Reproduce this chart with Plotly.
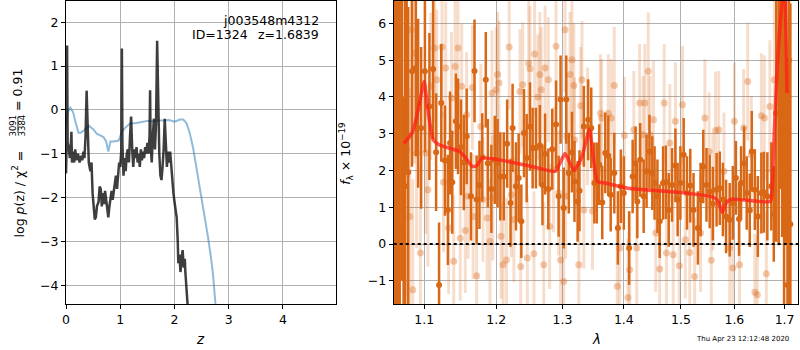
import plotly.graph_objects as go

# ---------------- left panel data ----------------
chi_z = [0.0, 0.03, 0.08, 0.13, 0.18, 0.23, 0.27, 0.32, 0.39, 0.42, 0.51, 0.57, 0.63, 0.69, 0.74,
         0.78, 0.82, 0.88, 0.97, 1.03, 1.08, 1.14, 1.18, 1.30, 1.36, 1.50, 1.60, 1.70, 1.80, 1.90,
         2.00, 2.10, 2.16, 2.22, 2.28, 2.34, 2.40, 2.45, 2.49, 2.55, 2.62, 2.67, 2.71, 2.76, 2.82]
chi_v = [-0.38, -0.05, 0.05, -0.05, -0.30, -0.52, -0.52, -0.48, -0.40, -0.36, -0.45, -0.55, -0.58, -0.62, -0.72,
         -0.95, -0.72, -0.72, -0.70, -0.50, -0.42, -0.34, -0.31, -0.30, -0.28, -0.25, -0.26, -0.24, -0.24, -0.23,
         -0.27, -0.22, -0.22, -0.30, -0.52, -0.85, -1.29, -1.65, -2.00, -2.45, -2.92, -3.35, -3.76, -4.50, -5.30]

pz_z = [0.00, 0.01, 0.02, 0.03, 0.05, 0.07, 0.09, 0.10, 0.11, 0.13, 0.15, 0.17, 0.19, 0.22, 0.25,
        0.28, 0.30, 0.32, 0.34, 0.36, 0.38, 0.40, 0.42, 0.45, 0.47, 0.49, 0.51, 0.53, 0.55, 0.57,
        0.60, 0.62, 0.64, 0.66, 0.68, 0.70, 0.72, 0.74, 0.76, 0.78, 0.80, 0.82, 0.84, 0.86, 0.88,
        0.90, 0.92, 0.94, 0.96, 0.98, 1.00, 1.02, 1.03, 1.04, 1.06, 1.08, 1.10, 1.12, 1.14, 1.16,
        1.18, 1.20, 1.22, 1.24, 1.26, 1.28, 1.30, 1.32, 1.34, 1.36, 1.38, 1.40, 1.42, 1.44, 1.46,
        1.48, 1.50, 1.52, 1.54, 1.55, 1.56, 1.58, 1.60, 1.62, 1.64, 1.66, 1.68, 1.70, 1.72, 1.74,
        1.76, 1.78, 1.80, 1.82, 1.84, 1.86, 1.88, 1.90, 1.92, 1.94, 1.96, 1.98, 2.00, 2.02, 2.04,
        2.06, 2.07, 2.09, 2.11, 2.13, 2.15, 2.17, 2.19, 2.20, 2.22, 2.25, 2.30]
pz_v = [-1.45, -0.90, 1.47, -0.75, -0.85, -1.10, -0.80, -0.50, -1.20, -0.95, -1.20, -0.90, -1.15, -1.00, -1.20,
        -1.05, -1.15, -0.95, -1.10, -0.60, 0.44, -0.70, -1.20, -1.40, -1.20, -1.90, -2.30, -2.50, -2.45, -2.20,
        -2.10, -1.75, -1.80, -2.20, -1.90, -2.15, -1.85, -2.10, -2.35, -2.45, -2.20, -2.00, -1.85, -2.05, -1.90,
        -1.70, -1.50, -1.80, -1.40, -1.20, -1.30, -0.90, 1.40, -0.80, -1.50, -1.10, -1.40, -1.00, -0.90, -1.20,
        -0.60, -0.15, -0.90, -1.30, -0.90, -1.10, -0.85, -1.20, -1.00, -1.30, -0.90, -1.15, -0.95, -1.10, -0.85,
        -1.00, -0.75, -1.00, -0.60, 0.45, -0.80, -1.20, -0.60, -0.20, -0.90, -0.30, 1.58, -0.40, -1.00, -1.50,
        -1.60, -1.30, -0.90, -0.20, -1.00, -1.30, -0.95, -1.20, -0.95, -1.30, -1.50, -1.90, -2.10, -2.30, -2.45,
        -3.00, -3.50, -3.30, -3.70, -3.40, -3.20, -3.60, -3.40, -3.70, -4.00, -4.60, -5.50]

# ---------------- right panel data ----------------
dark_lam = [1.062, 1.064, 1.066, 1.068, 1.071, 1.073, 1.075, 1.077, 1.079, 1.084, 1.089, 1.092, 1.096, 1.101,
            1.107, 1.112, 1.116, 1.120, 1.123, 1.128, 1.132, 1.135, 1.138, 1.143, 1.146, 1.150, 1.154, 1.158,
            1.164, 1.169, 1.172, 1.176, 1.180, 1.185, 1.188, 1.193, 1.198, 1.202, 1.206, 1.211, 1.216, 1.221,
            1.224, 1.229, 1.233, 1.237, 1.241, 1.245, 1.250, 1.254, 1.259, 1.265, 1.269, 1.273, 1.278, 1.284,
            1.290, 1.294, 1.297, 1.302, 1.306, 1.310, 1.315, 1.319, 1.324, 1.327, 1.334, 1.341, 1.346, 1.351,
            1.355, 1.359, 1.364, 1.369, 1.374, 1.378, 1.384, 1.390, 1.395, 1.400, 1.409, 1.415, 1.420, 1.423,
            1.428, 1.434, 1.439, 1.444, 1.449, 1.453, 1.458, 1.462, 1.468, 1.473, 1.478, 1.484, 1.490, 1.494,
            1.499, 1.505, 1.511, 1.517, 1.523, 1.531, 1.536, 1.541, 1.547, 1.553, 1.559, 1.566, 1.572, 1.578,
            1.584, 1.591, 1.597, 1.603, 1.609, 1.613, 1.619, 1.624, 1.630, 1.634, 1.640, 1.646, 1.653, 1.658,
            1.665, 1.673, 1.678, 1.683, 1.688, 1.691, 1.695, 1.699, 1.703, 1.706, 1.709, 1.712]
dark_f = [7.20, 1.75, -2.40, 0.39, 8.00, -2.00, 1.57, 7.00, 1.95, 4.70, 4.79, 3.83, 3.16, 4.70,
          3.74, 4.76, 2.50, -1.11, 3.84, 2.27, 0.93, 2.75, 1.68, 3.34, 3.20, 2.63, 2.22, 2.93,
          1.30, 4.71, 1.21, 1.61, 2.36, 4.47, 2.20, 1.50, 2.29, 2.20, 1.84, 1.84, 2.73, 1.12,
          3.16, 1.57, 1.80, 0.62, 3.02, 2.34, 3.20, 2.61, 2.61, 2.68, 1.61, 2.45, 1.50, 2.58,
          3.25, 1.30, 3.93, 0.98, 3.93, 1.93, 2.50, 1.70, 1.16, 1.45, 3.20, 3.38, 3.16, 1.66,
          1.66, 2.16, 1.13, 2.48, 2.40, 1.34, 1.93, 0.44, 1.57, 1.39, -0.11, 1.84, 2.20, 1.16,
          2.29, 1.30, 1.98, 2.52, 1.93, 1.66, 1.30, 0.62, 1.66, 1.68, 0.93, 1.61, 2.14, 1.21,
          1.66, 2.43, 1.39, 1.59, 0.93, 0.44, 1.21, 2.11, 1.61, 1.43, 1.10, 1.48, 1.52, 1.21,
          0.75, 0.66, 1.12, 1.80, 0.68, 1.66, 2.20, 1.39, 0.92, 2.52, 1.48, 0.75, 1.39, 1.41,
          1.30, 1.57, 0.82, 3.56, 4.47, 7.50, 6.19, 2.18, 8.00, -1.11, 5.00, 0.54]
dark_e = [9.0, 8.0, 9.0, 8.0, 9.0, 6.0, 6.0, 5.0, 4.5, 2.6, 2.4, 2.3, 2.2, 2.2,
          2.0, 1.9, 1.6, 1.7, 1.6, 1.5, 1.5, 1.4, 1.4, 1.3, 1.3, 1.3, 1.3, 1.3,
          1.2, 1.4, 1.2, 1.2, 1.2, 1.3, 1.2, 1.2, 1.2, 1.2, 1.2, 1.2, 1.2, 1.2,
          1.2, 1.2, 1.2, 1.0, 1.2, 1.2, 1.2, 1.1, 1.1, 1.1, 1.1, 1.1, 1.1, 1.1,
          1.2, 1.1, 1.2, 1.1, 1.2, 1.1, 1.1, 1.1, 1.1, 1.1, 1.1, 1.1, 1.1, 1.1,
          1.1, 1.1, 1.0, 1.1, 1.1, 1.0, 1.1, 1.0, 1.0, 1.0, 1.0, 1.0, 1.0, 1.0,
          1.0, 1.0, 1.0, 1.0, 1.0, 1.0, 1.0, 1.0, 1.0, 1.0, 1.0, 1.0, 1.0, 1.0,
          1.0, 1.0, 1.0, 1.0, 1.0, 1.0, 1.0, 1.0, 1.0, 1.0, 1.0, 1.0, 1.0, 1.0,
          1.0, 1.0, 1.0, 1.0, 1.0, 1.0, 1.0, 1.0, 1.0, 1.1, 1.1, 1.1, 1.1, 1.1,
          1.2, 1.2, 1.3, 3.5, 4.5, 6.0, 6.0, 6.0, 8.0, 6.0, 8.0, 6.0]

light_lam = [1.077, 1.081, 1.083, 1.085, 1.087, 1.090, 1.095, 1.102, 1.105, 1.109, 1.114, 1.117, 1.124, 1.126,
             1.129, 1.133, 1.137, 1.140, 1.142, 1.146, 1.149, 1.151, 1.156, 1.158, 1.160, 1.166, 1.167, 1.172,
             1.178, 1.181, 1.187, 1.191, 1.194, 1.195, 1.200, 1.202, 1.204, 1.207, 1.210, 1.215, 1.219, 1.222,
             1.226, 1.235, 1.236, 1.239, 1.246, 1.248, 1.250, 1.256, 1.257, 1.262, 1.265, 1.267, 1.271, 1.273,
             1.278, 1.280, 1.286, 1.290, 1.294, 1.297, 1.302, 1.304, 1.305, 1.307, 1.312, 1.315, 1.318, 1.319,
             1.326, 1.329, 1.331, 1.334, 1.340, 1.348, 1.361, 1.363, 1.374, 1.379, 1.384, 1.389, 1.393, 1.401,
             1.407, 1.410, 1.417, 1.422, 1.427, 1.433, 1.436, 1.442, 1.445, 1.451, 1.455, 1.462, 1.470, 1.474,
             1.480, 1.486, 1.490, 1.497, 1.503, 1.508, 1.516, 1.525, 1.536, 1.544, 1.552, 1.556, 1.559, 1.564,
             1.570, 1.580, 1.591, 1.597, 1.600, 1.610, 1.618, 1.626, 1.633, 1.640, 1.645, 1.653, 1.659, 1.663,
             1.670, 1.679, 1.689]
light_f = [2.57, 0.75, 5.83, -1.24, 5.19, 2.48, -0.24, 2.48, 1.48, 4.29, 5.33, 4.47, 5.36, 1.68,
           4.79, 0.44, 3.97, -0.47, 4.83, 5.33, 0.16, 4.29, 0.37, 3.52, 1.30, 4.26, 0.75, -0.86,
           3.20, 1.21, 0.71, 0.07, 4.11, 1.25, 4.20, 4.61, 4.38, 0.21, -0.56, -0.43, 5.36, 1.34,
           0.66, 4.15, -0.61, 4.33, -0.38, 4.92, 4.77, -0.26, 5.17, 4.00, 4.61, 4.20, -0.56, 4.79,
           4.47, 0.48, 2.02, 5.38, 1.39, -0.43, -1.02, 5.83, 1.30, 2.93, 4.61, 5.01, 4.31, 2.84,
           -0.56, 3.76, 4.47, 0.93, 3.20, 0.90, 3.56, 3.43, 3.56, 3.43, 4.31, -1.15, -0.11, 2.95,
           -1.45, -0.70, 3.11, -0.11, 3.84, 2.97, 3.84, 4.70, 2.97, 3.38, 0.30, -0.68, 3.84, -0.24,
           2.75, -0.29, 3.34, -0.59, 3.79, 0.12, -0.23, -0.88, 0.30, 3.43, 2.52, -0.44, 1.43, 3.09,
           3.11, 1.98, -0.11, -0.65, 3.34, -0.56, 3.16, 4.42, 2.43, -1.31, -1.38, 3.49, 3.43, -0.81,
           3.74, 4.47, 5.74]
light_e = [4.0, 3.5, 3.0, 3.0, 3.0, 2.6, 2.4, 2.2, 2.1, 2.0, 2.0, 1.9, 1.9, 1.9,
           1.8, 1.8, 1.8, 1.8, 1.8, 1.8, 1.7, 1.7, 1.7, 1.7, 1.7, 1.7, 1.7, 1.7,
           1.7, 1.7, 1.7, 1.7, 1.7, 1.7, 1.7, 1.7, 1.7, 1.7, 1.7, 1.7, 1.7, 1.7,
           1.7, 1.7, 1.7, 1.7, 1.7, 1.7, 1.7, 1.7, 1.7, 1.7, 1.7, 1.7, 1.7, 1.7,
           1.7, 1.7, 1.7, 1.7, 1.7, 1.7, 1.7, 1.7, 1.7, 1.7, 1.7, 1.7, 1.7, 1.7,
           1.6, 1.6, 1.6, 1.6, 1.6, 1.6, 1.6, 1.6, 1.6, 1.6, 1.6, 1.6, 1.6, 1.6,
           1.6, 1.6, 1.6, 1.6, 1.6, 1.6, 1.6, 1.6, 1.6, 1.6, 1.6, 1.6, 1.6, 1.6,
           1.6, 1.6, 1.6, 1.6, 1.6, 1.6, 1.6, 1.6, 1.6, 1.6, 1.6, 1.6, 1.6, 1.6,
           1.6, 1.6, 1.6, 1.6, 1.6, 1.6, 1.6, 1.6, 1.6, 1.6, 1.6, 1.7, 1.7, 1.7,
           1.8, 2.2, 3.0]

model_lam = [1.0735, 1.085, 1.092, 1.100, 1.105, 1.112, 1.120, 1.148, 1.155, 1.166, 1.172, 1.180, 1.205,
             1.253, 1.289, 1.304, 1.318, 1.331, 1.343, 1.356, 1.369, 1.407, 1.494, 1.559, 1.569, 1.577,
             1.584, 1.594, 1.671, 1.675, 1.679, 1.685, 1.691, 1.696, 1.700, 1.705]
model_f = [2.73, 3.06, 3.65, 4.42, 3.65, 2.84, 2.70, 2.52, 2.38, 2.11, 2.13, 2.34, 2.29,
           2.11, 1.98, 2.46, 2.00, 2.38, 3.11, 1.70, 1.66, 1.52, 1.41, 1.28, 1.16, 0.86,
           1.12, 1.22, 1.16, 1.57, 3.02, 4.83, 6.01, 6.70, 7.10, 4.11]

left_xticks = [0, 1, 2, 3, 4]
left_yticks = [-4, -3, -2, -1, 0, 1, 2]
right_xticks = [1.1, 1.2, 1.3, 1.4, 1.5, 1.6, 1.7]
right_yticks = [-1, 0, 1, 2, 3, 4, 5, 6]

def lab(v):
    s = ("%g" % v)
    return s.replace("-", "\u2212")

FONT = "DejaVu Sans"
FS = 12.5
ORANGE = "rgb(217,104,22)"

fig = go.Figure()

fig.add_trace(go.Scatter(x=chi_z, y=chi_v, mode="lines", xaxis="x", yaxis="y",
                         line=dict(color="rgba(31,119,180,0.5)", width=2), hoverinfo="skip"))
fig.add_trace(go.Scatter(x=pz_z, y=pz_v, mode="lines", xaxis="x", yaxis="y",
                         line=dict(color="rgba(20,20,20,0.82)", width=2.5), hoverinfo="skip"))

fig.add_trace(go.Scatter(x=light_lam, y=light_f, mode="markers", xaxis="x2", yaxis="y2",
                         marker=dict(color="rgba(217,104,22,0.35)", size=7, line=dict(width=0)),
                         error_y=dict(type="data", array=light_e, color="rgba(217,104,22,0.22)",
                                      thickness=3, width=0), hoverinfo="skip"))
fig.add_trace(go.Scatter(x=dark_lam, y=dark_f, mode="markers", xaxis="x2", yaxis="y2",
                         marker=dict(color=ORANGE, size=6, line=dict(width=0)),
                         error_y=dict(type="data", array=dark_e, color=ORANGE,
                                      thickness=2.5, width=0), hoverinfo="skip"))
fig.add_trace(go.Scatter(x=model_lam, y=model_f, mode="lines", xaxis="x2", yaxis="y2",
                         line=dict(color="rgba(255,30,20,0.75)", width=3.5, shape="spline", smoothing=0.5),
                         hoverinfo="skip"))

axis_common = dict(showgrid=True, gridcolor="#b0b0b0", gridwidth=1, zeroline=False,
                   showline=True, linecolor="black", linewidth=1, mirror=True,
                   ticks="outside", ticklen=4, tickwidth=1, tickcolor="black",
                   tickfont=dict(family=FONT, size=FS, color="black"))

fig.update_layout(
    width=800, height=350, margin=dict(l=0, r=0, t=0, b=0),
    paper_bgcolor="white", plot_bgcolor="white", showlegend=False,
    font=dict(family=FONT, size=FS, color="black"),
    xaxis=dict(domain=[0.0779, 0.4166], range=[0, 4.97], anchor="y",
               tickvals=left_xticks, ticktext=[lab(v) for v in left_xticks], **axis_common),
    yaxis=dict(domain=[0.1314, 0.9971], range=[-4.43, 2.486], anchor="x",
               tickvals=left_yticks, ticktext=[lab(v) for v in left_yticks], **axis_common),
    xaxis2=dict(domain=[0.4896, 0.9975], type="log", range=[0.02543, 0.2375], anchor="y2",
                tickvals=right_xticks, ticktext=[lab(v) for v in right_xticks], **axis_common),
    yaxis2=dict(domain=[0.1314, 0.9971], range=[-1.63, 6.61], anchor="x2",
                tickvals=right_yticks, ticktext=[lab(v) for v in right_yticks], **axis_common),
)

# dotted zero line on right panel
fig.add_shape(type="line", xref="x2 domain", yref="y2", x0=0, x1=1, y0=0, y1=0,
              line=dict(color="black", width=2, dash="dot"), layer="above")

ann = []
# left y label (with fraction)
ann.append(dict(text="log <i>p</i>(z) / \u03c7<sup>2</sup> =", x=14 / 800, y=(350 - 193.5) / 350,
                xref="paper", yref="paper", textangle=-90, showarrow=False,
                xanchor="center", yanchor="middle", font=dict(family=FONT, size=FS)))
ann.append(dict(text="3091", x=9.5 / 800, y=(350 - 125) / 350, xref="paper", yref="paper",
                textangle=-90, showarrow=False, xanchor="center", yanchor="middle",
                font=dict(family=FONT, size=8.5)))
ann.append(dict(text="3384", x=18.5 / 800, y=(350 - 125) / 350, xref="paper", yref="paper",
                textangle=-90, showarrow=False, xanchor="center", yanchor="middle",
                font=dict(family=FONT, size=8.5)))
ann.append(dict(text="= 0.91", x=14 / 800, y=(350 - 90) / 350, xref="paper", yref="paper",
                textangle=-90, showarrow=False, xanchor="center", yanchor="middle",
                font=dict(family=FONT, size=FS)))
fig.add_shape(type="line", xref="paper", yref="paper", x0=14 / 800, x1=14 / 800,
              y0=(350 - 133) / 350, y1=(350 - 117) / 350, line=dict(color="black", width=0.8))

# right y label
ann.append(dict(text="<i>f</i><sub>\u03bb</sub> \u00d7 10<sup>\u221219</sup>", x=343 / 800, y=(350 - 153.5) / 350,
                xref="paper", yref="paper", textangle=-90, showarrow=False,
                xanchor="center", yanchor="middle", font=dict(family=FONT, size=FS)))
# x labels
ann.append(dict(text="<i>z</i>", x=197 / 800, y=(350 - 339) / 350, xref="paper", yref="paper",
                showarrow=False, xanchor="center", yanchor="middle", font=dict(family=FONT, size=FS + 1)))
ann.append(dict(text="<i>\u03bb</i>", x=595 / 800, y=(350 - 339) / 350, xref="paper", yref="paper",
                showarrow=False, xanchor="center", yanchor="middle", font=dict(family=FONT, size=FS + 1)))
# object labels
ann.append(dict(text="j003548m4312", x=318.5 / 800, y=(350 - 20) / 350, xref="paper", yref="paper",
                showarrow=False, xanchor="right", yanchor="middle", font=dict(family=FONT, size=FS)))
ann.append(dict(text="ID=1324", x=247 / 800, y=(350 - 34) / 350, xref="paper", yref="paper",
                showarrow=False, xanchor="right", yanchor="middle", font=dict(family=FONT, size=FS)))
ann.append(dict(text="z=1.6839", x=318.5 / 800, y=(350 - 34) / 350, xref="paper", yref="paper",
                showarrow=False, xanchor="right", yanchor="middle", font=dict(family=FONT, size=FS)))
# timestamp
ann.append(dict(text="Thu Apr 23 12:12:48 2020", x=742 / 800, y=(350 - 339) / 350, xref="paper", yref="paper",
                showarrow=False, xanchor="center", yanchor="middle", font=dict(family=FONT, size=7)))

fig.update_layout(annotations=ann)

fig.write_html("out.html", config={"displayModeBar": False},
               post_script="document.body.style.margin='0';document.body.style.padding='0';")
